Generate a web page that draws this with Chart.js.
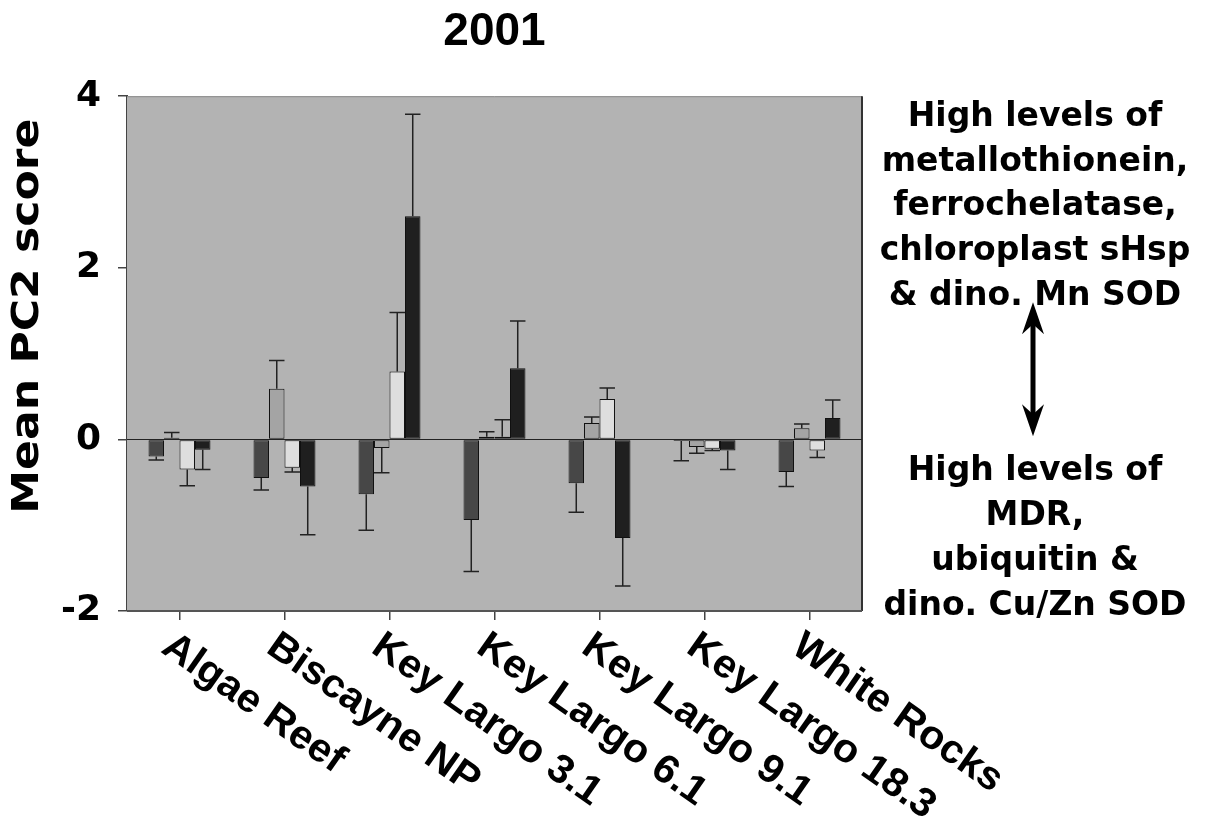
<!DOCTYPE html>
<html>
<head>
<meta charset="utf-8">
<script src="https://cdn.jsdelivr.net/npm/chart.js@4/dist/chart.umd.min.js"></script>
<style>
  html, body { margin: 0; padding: 0; background: #fff; }
  #wrap { width: 1208px; height: 820px; }
</style>
</head>
<body>
<div id="wrap"><canvas id="pc2" width="1208" height="820"></canvas></div>
<script>
// sites along the x axis
const sites = ["Algae Reef", "Biscayne NP", "Key Largo 3.1", "Key Largo 6.1",
  "Key Largo 9.1", "Key Largo 18.3", "White Rocks"];

// mean PC2 score per site, one array per bar shade
const meansDark  = [-0.20, -0.45, -0.64, -0.94, -0.51, -0.02, -0.38];
const meansMid   = [ 0.02,  0.59, -0.10,  0.03,  0.19, -0.09,  0.13];
const meansLight = [-0.35, -0.33,  0.79,  0.03,  0.47, -0.11, -0.13];
const meansBlack = [-0.12, -0.55,  2.60,  0.83, -1.15, -0.13,  0.25];

// standard errors (drawn one-sided, away from zero)
const errDark  = [0.04, 0.14, 0.42, 0.60, 0.34, 0.23, 0.17];
const errMid   = [0.06, 0.33, 0.29, 0.06, 0.07, 0.07, 0.05];
const errLight = [0.19, 0.05, 0.69, 0.20, 0.13, 0.02, 0.08];
const errBlack = [0.23, 0.56, 1.19, 0.55, 0.56, 0.22, 0.21];

const yTicks = [-2, 0, 2, 4];

const noteHigh = ["High levels of", "metallothionein,", "ferrochelatase,",
  "chloroplast sHsp", "& dino. Mn SOD"];
const noteLow = ["High levels of", "MDR,", "ubiquitin &", "dino. Cu/Zn SOD"];

const errors = [errDark, errMid, errLight, errBlack];

function makeSet(data, color) {
  return {
    data: data,
    backgroundColor: color,
    borderColor: "#111",
    borderWidth: 1,
    borderSkipped: false,
    categoryPercentage: 0.59,
    barPercentage: 1.0
  };
}

const plotDecor = {
  id: "plotDecor",
  beforeDatasetsDraw(chart) {
    const { ctx, chartArea: a, scales } = chart;
    ctx.save();
    ctx.fillStyle = "#b3b3b3";
    ctx.fillRect(a.left, a.top, a.right - a.left, a.bottom - a.top);
    // frame
    ctx.strokeStyle = "#8a8a8a";
    ctx.lineWidth = 1;
    ctx.beginPath();
    ctx.moveTo(a.left, a.top + 0.5);
    ctx.lineTo(a.right, a.top + 0.5);
    ctx.stroke();
    ctx.strokeStyle = "#333";
    ctx.lineWidth = 2;
    ctx.beginPath();
    ctx.moveTo(a.right, a.top);
    ctx.lineTo(a.right, a.bottom);
    ctx.stroke();
    ctx.strokeStyle = "#555";
    ctx.beginPath();
    ctx.moveTo(a.left, a.bottom);
    ctx.lineTo(a.right, a.bottom);
    ctx.stroke();
    // zero line
    const y0 = Math.round(scales.y.getPixelForValue(0)) + 0.5;
    ctx.strokeStyle = "#222";
    ctx.lineWidth = 1.2;
    ctx.beginPath();
    ctx.moveTo(a.left, y0);
    ctx.lineTo(a.right, y0);
    ctx.stroke();
    ctx.restore();
  },
  afterDatasetsDraw(chart) {
    const { ctx, scales } = chart;
    ctx.save();
    ctx.strokeStyle = "#222";
    ctx.lineWidth = 1.5;
    chart.data.datasets.forEach((ds, di) => {
      const meta = chart.getDatasetMeta(di);
      meta.data.forEach((bar, i) => {
        const v = ds.data[i];
        const e = errors[di][i];
        const end = v >= 0 ? v + e : v - e;
        const yb = scales.y.getPixelForValue(v);
        const ye = scales.y.getPixelForValue(end);
        const half = bar.width / 2;
        ctx.beginPath();
        ctx.moveTo(bar.x, yb);
        ctx.lineTo(bar.x, ye);
        ctx.moveTo(bar.x - half, ye);
        ctx.lineTo(bar.x + half, ye);
        ctx.stroke();
      });
    });
    ctx.restore();
  },
  afterDraw(chart) {
    const { ctx, chartArea: a, scales } = chart;
    ctx.save();
    ctx.fillStyle = "#000";

    // slanted site names
    ctx.font = 'bold 40px "Liberation Sans"';
    ctx.textAlign = "left";
    ctx.textBaseline = "top";
    sites.forEach((s, i) => {
      const x = scales.x.getPixelForTick(i);
      ctx.save();
      ctx.translate(x - 2, a.bottom + 15);
      ctx.rotate(35 * Math.PI / 180);
      ctx.scale(1.03, 1);
      ctx.fillText(s, 0, 0);
      ctx.restore();
    });

    // y axis title
    ctx.save();
    ctx.translate(28, a.top + 220);
    ctx.rotate(-Math.PI / 2);
    ctx.scale(1.16, 1);
    ctx.font = 'bold 38px "DejaVu Sans"';
    ctx.textAlign = "center";
    ctx.textBaseline = "middle";
    ctx.fillText("Mean PC2 score", 0, 0);
    ctx.restore();

    // notes on the right
    const cx = a.right + 173;
    ctx.font = 'bold 33px "DejaVu Sans"';
    ctx.textAlign = "center";
    ctx.textBaseline = "middle";
    noteHigh.forEach((t, i) => ctx.fillText(t, cx, a.top + 21 + i * 44.8));
    noteLow.forEach((t, i) => ctx.fillText(t, cx, a.top + 375 + i * 45));

    // double arrow
    const ax = cx - 2, top = a.top + 206, bot = a.top + 340;
    ctx.strokeStyle = "#000";
    ctx.lineWidth = 5;
    ctx.beginPath();
    ctx.moveTo(ax, top + 12);
    ctx.lineTo(ax, bot - 12);
    ctx.stroke();
    ctx.beginPath();
    ctx.moveTo(ax, top);
    ctx.lineTo(ax - 11, top + 32);
    ctx.lineTo(ax, top + 22);
    ctx.lineTo(ax + 11, top + 32);
    ctx.closePath();
    ctx.moveTo(ax, bot);
    ctx.lineTo(ax - 11, bot - 32);
    ctx.lineTo(ax, bot - 22);
    ctx.lineTo(ax + 11, bot - 32);
    ctx.closePath();
    ctx.fill();
    ctx.restore();
  }
};

const ctx = document.getElementById("pc2").getContext("2d");

new Chart(ctx, {
  type: "bar",
  data: {
    labels: sites,
    datasets: [
      makeSet(meansDark, "#474747"),
      makeSet(meansMid, "#a4a4a4"),
      makeSet(meansLight, "#dedede"),
      makeSet(meansBlack, "#1f1f1f")
    ]
  },
  options: {
    responsive: false,
    animation: false,
    devicePixelRatio: 1,
    layout: { padding: { left: 0, right: 346, top: 0, bottom: 0 } },
    plugins: {
      legend: { display: false },
      tooltip: { enabled: false },
      title: {
        display: true,
        text: "2001",
        fullSize: false,
        color: "#000",
        font: { family: "Liberation Sans", size: 46, weight: "bold", lineHeight: 1.2 },
        padding: { top: 5, bottom: 36 }
      }
    },
    scales: {
      x: {
        type: "category",
        ticks: { display: false },
        grid: { display: true, offset: false, drawOnChartArea: false, tickLength: 9, color: "#444", lineWidth: 1.5 },
        border: { display: false },
        afterFit(scale) { scale.height = 209; }
      },
      y: {
        min: -2,
        max: 4,
        afterBuildTicks(scale) { scale.ticks = yTicks.map(v => ({ value: v })); },
        ticks: {
          color: "#000",
          padding: 17,
          font: { family: "DejaVu Sans", size: 36, weight: "bold" }
        },
        grid: { drawOnChartArea: false, tickLength: 9, color: "#444", lineWidth: 1.5 },
        border: { display: true, color: "#444", width: 2 },
        afterFit(scale) { scale.width = 127; }
      }
    }
  },
  plugins: [plotDecor]
});
</script>
</body>
</html>
